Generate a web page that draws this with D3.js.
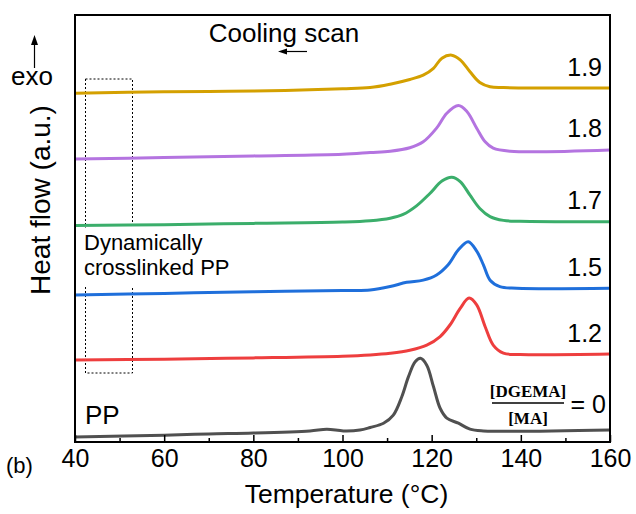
<!DOCTYPE html>
<html>
<head>
<meta charset="utf-8">
<script src="https://cdn.jsdelivr.net/npm/d3@7"></script>
<style>
  body { margin: 0; background: #fff; }
  svg text { font-family: "Liberation Sans", Arial, sans-serif; fill: #000; }
</style>
</head>
<body>
<svg id="chart" width="636" height="514"></svg>
<script>
// DSC cooling curves, [temperature (C), heat flow (a.u.)]
const pp = [[40,0.12],[60,0.16],[70,0.19],[80,0.21],[92.7,0.26],[96.5,0.30],[100.2,0.26],[103.9,0.28],
  [106.2,0.34],[109.2,0.44],[111.4,0.63],[113.3,1.06],[114.8,1.53],[116.3,1.88],[117.5,1.96],[118.9,1.80],
  [120.4,1.30],[121.9,0.79],[123.4,0.56],[126.0,0.44],[128.6,0.30],[131.6,0.26],[160,0.28]];
const dc12 = [[40,1.92],[60,1.94],[80,1.97],[100,2.01],[106.2,2.04],[110.7,2.08],[115.1,2.15],[118.9,2.27],
  [121.9,2.47],[124.1,2.74],[126.4,3.13],[128.4,3.37],[130.1,3.21],[132.0,2.70],[133.8,2.27],[136.1,2.08],
  [139.8,2.05],[160,2.06]];
const dc15 = [[40,3.44],[60,3.48],[80,3.52],[100,3.55],[106.2,3.56],[110.7,3.64],[114.4,3.74],[118.1,3.79],
  [121.1,3.91],[123.7,4.15],[126.0,4.50],[128.2,4.69],[130.1,4.47],[131.6,4.15],[133.1,3.79],[135.3,3.64],
  [139.1,3.60],[160,3.60]];
const dc17 = [[40,5.07],[60,5.09],[80,5.12],[100,5.15],[106.2,5.18],[110.7,5.24],[113.6,5.33],[116.6,5.53],
  [119.6,5.82],[122.3,6.11],[124.5,6.20],[126.4,6.10],[128.6,5.78],[130.8,5.47],[133.1,5.28],[136.1,5.19],
  [139.8,5.17],[160,5.16]];
const dc18 = [[40,6.63],[60,6.66],[80,6.70],[100,6.74],[106.2,6.78],[110.7,6.81],[115.1,6.89],[118.1,7.03],
  [121.1,7.35],[123.4,7.70],[126.0,7.88],[127.9,7.74],[130.1,7.35],[132.0,7.03],[133.8,6.88],[137.6,6.81],
  [160,6.84]];
const dc19 = [[40,8.17],[60,8.20],[80,8.22],[100,8.27],[106.2,8.30],[110.7,8.38],[115.1,8.49],[118.1,8.59],
  [120.4,8.75],[122.3,8.99],[124.5,9.06],[126.4,8.95],[128.6,8.67],[130.8,8.42],[133.1,8.32],[136.1,8.30],
  [160,8.29]];

const seriesData = [pp, dc12, dc15, dc17, dc18, dc19];
const seriesLabels = ["0", "1.2", "1.5", "1.7", "1.8", "1.9"];
const seriesColors = ["#505050", "#EE3E3E", "#1F6FDB", "#3BAE6B", "#B474E0", "#D4A000"];
const xTicks = [40, 60, 80, 100, 120, 140, 160];
const xMinorTicks = [50, 70, 90, 110, 130, 150];

const svg = d3.select("#chart");
const margin = {left: 75, right: 26, top: 15, bottom: 72};
const W = 636, H = 514;

const x = d3.scaleLinear().domain([40, 160]).range([margin.left, W - margin.right]);
const y = d3.scaleLinear().domain([0, 10]).range([H - margin.bottom, margin.top]);

const line = d3.line()
  .x(d => x(d[0]))
  .y(d => y(d[1]))
  .curve(d3.curveCatmullRom.alpha(0.5));

// dotted box round the low-temperature baselines
svg.append("rect")
  .attr("x", 85.5).attr("y", 79)
  .attr("width", 47).attr("height", 294)
  .attr("fill", "none")
  .attr("stroke", "#000")
  .attr("stroke-width", 1)
  .attr("stroke-dasharray", "2,2");

svg.selectAll("path.curve")
  .data(seriesData)
  .enter()
  .append("path")
  .classed("curve", true)
  .attr("d", line)
  .attr("fill", "none")
  .attr("stroke", (d, i) => seriesColors[i])
  .attr("stroke-width", 3);

// series labels at the right end of each curve
svg.selectAll("text.slabel")
  .data(seriesData.slice(1))
  .enter()
  .append("text")
  .classed("slabel", true)
  .attr("x", 602)
  .attr("y", d => y(d[d.length - 1][1]) - 12.5)
  .attr("text-anchor", "end")
  .style("font-size", "25px")
  .text((d, i) => seriesLabels[i + 1]);

// text box in the middle of the dotted frame
svg.append("rect")
  .attr("x", 80).attr("y", 227.5)
  .attr("width", 160).attr("height", 58.5)
  .attr("fill", "#fff");
svg.append("text").attr("x", 84).attr("y", 250).style("font-size", "22px").text("Dynamically");
svg.append("text").attr("x", 84).attr("y", 275).style("font-size", "22px").text("crosslinked PP");

svg.append("text").attr("x", 85).attr("y", 424).style("font-size", "26px").text("PP");

// [DGEMA]/[MA] = 0
const frac = svg.append("g");
frac.append("text")
  .attr("x", 528).attr("y", 397)
  .attr("text-anchor", "middle")
  .style("font-family", "'Liberation Serif', 'DejaVu Serif', serif")
  .style("font-weight", "bold")
  .style("font-size", "17px")
  .text("[DGEMA]");
frac.append("line")
  .attr("x1", 492).attr("x2", 564)
  .attr("y1", 403).attr("y2", 403)
  .attr("stroke", "#000").attr("stroke-width", 1.5);
frac.append("text")
  .attr("x", 528).attr("y", 424)
  .attr("text-anchor", "middle")
  .style("font-family", "'Liberation Serif', 'DejaVu Serif', serif")
  .style("font-weight", "bold")
  .style("font-size", "17px")
  .text("[MA]");
frac.append("text")
  .attr("x", 606).attr("y", 413)
  .attr("text-anchor", "end")
  .style("font-size", "25px")
  .text("= 0");

// axes, ticks pointing inward
const xAxis = d3.axisBottom(x)
  .tickValues(xTicks)
  .tickSize(-7)
  .tickPadding(7)
  .tickFormat(d3.format("d"));
const gx = svg.append("g")
  .attr("transform", "translate(0," + (H - margin.bottom) + ")")
  .call(xAxis);
gx.select(".domain").remove();
gx.selectAll(".tick line").attr("stroke-width", 1.5);
gx.selectAll(".tick text")
  .style("font-family", "'Liberation Sans', Arial, sans-serif")
  .style("font-size", "25px");

const gxm = svg.append("g")
  .attr("transform", "translate(0," + (H - margin.bottom) + ")")
  .call(d3.axisBottom(x).tickValues(xMinorTicks).tickSize(-4).tickFormat(""));
gxm.select(".domain").remove();
gxm.selectAll(".tick line").attr("stroke-width", 1.5);

// frame
svg.append("rect")
  .attr("x", margin.left).attr("y", margin.top)
  .attr("width", W - margin.left - margin.right)
  .attr("height", H - margin.top - margin.bottom)
  .attr("fill", "none")
  .attr("stroke", "#000")
  .attr("stroke-width", 2);

svg.append("text")
  .attr("x", (margin.left + W - margin.right) / 2 + 4)
  .attr("y", 503)
  .attr("text-anchor", "middle")
  .style("font-size", "26.5px")
  .text("Temperature (\u00B0C)");

svg.append("text")
  .attr("transform", "translate(50,200) rotate(-90)")
  .attr("text-anchor", "middle")
  .style("font-size", "28px")
  .text("Heat flow (a.u.)");

svg.append("text").attr("x", 6).attr("y", 473).style("font-size", "22px").text("(b)");

// exo arrow
svg.append("line")
  .attr("x1", 34.5).attr("x2", 34.5)
  .attr("y1", 68).attr("y2", 42)
  .attr("stroke", "#000").attr("stroke-width", 1.2);
svg.append("path")
  .attr("d", "M34.5,35 L31,45 L38,45 Z")
  .attr("fill", "#000");
svg.append("text").attr("x", 32).attr("y", 85)
  .attr("text-anchor", "middle")
  .style("font-size", "26px").text("exo");

// cooling scan
svg.append("text").attr("x", 284).attr("y", 42)
  .attr("text-anchor", "middle")
  .style("font-size", "26px").text("Cooling scan");
svg.append("line")
  .attr("x1", 307).attr("x2", 285)
  .attr("y1", 51.5).attr("y2", 51.5)
  .attr("stroke", "#000").attr("stroke-width", 1.2);
svg.append("path")
  .attr("d", "M278,51.5 L287,48.5 L287,54.5 Z")
  .attr("fill", "#000");
</script>
</body>
</html>
